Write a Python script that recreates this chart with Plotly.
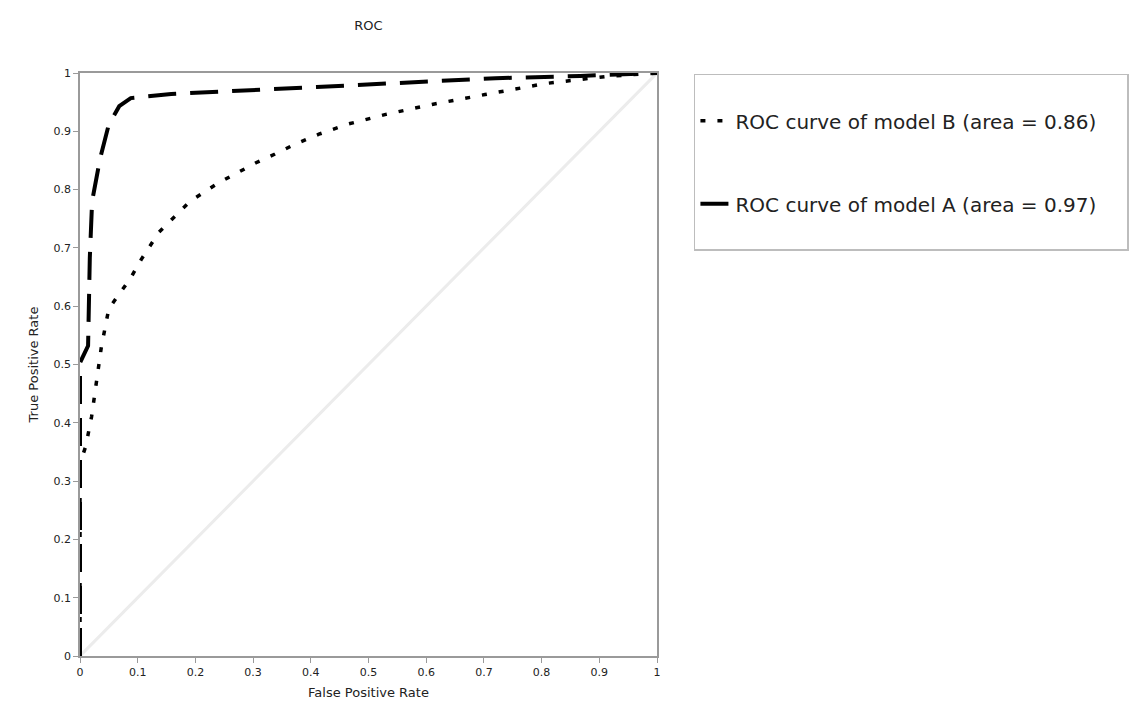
import plotly.graph_objects as go

# Data (ROC curves)
fpr_a = [0.0, 0.0, 0.014, 0.017, 0.021, 0.035, 0.05, 0.068, 0.088, 0.158, 0.41, 0.52, 0.72, 0.867, 1.0]
tpr_a = [0.0, 0.503, 0.532, 0.683, 0.78, 0.854, 0.912, 0.943, 0.957, 0.964, 0.976, 0.981, 0.991, 0.995, 1.0]

fpr_b = [0.0, 0.0, 0.01, 0.02, 0.037, 0.05, 0.087, 0.106, 0.137, 0.172, 0.191, 0.239, 0.27, 0.305,
         0.338, 0.373, 0.414, 0.463, 0.53, 0.61, 0.702, 0.807, 0.911, 1.0]
tpr_b = [0.0, 0.33, 0.36, 0.41, 0.53, 0.596, 0.647, 0.68, 0.727, 0.76, 0.78, 0.811, 0.828, 0.846,
         0.861, 0.878, 0.895, 0.912, 0.929, 0.946, 0.963, 0.982, 0.994, 1.0]

diag = [0.0, 1.0]

pad = "\u00a0" * 4
name_b = " <br>ROC curve of model B (area = 0.86)" + pad + "<br> "
name_a = " <br>ROC curve of model A (area = 0.97)" + pad + "<br> "

tick_vals = [0.0, 0.1, 0.2, 0.3, 0.4, 0.5, 0.6, 0.7, 0.8, 0.9, 1.0]
tick_text = ["0", "0.1", "0.2", "0.3", "0.4", "0.5", "0.6", "0.7", "0.8", "0.9", "1"]

fig = go.Figure()
fig.add_trace(go.Scatter(x=diag, y=diag, mode="lines", showlegend=False,
                         line=dict(color="#ececec", width=3), hoverinfo="skip"))
fig.add_trace(go.Scatter(x=fpr_b, y=tpr_b, mode="lines", name=name_b, legendgroup="b",
                         line=dict(color="black", width=3.5, dash="5px,12px")))
fig.add_trace(go.Scatter(x=fpr_a, y=tpr_a, mode="lines", name=name_a, legendgroup="a",
                         line=dict(color="black", width=4, dash="28px,14px")))

fig.update_layout(
    width=1141, height=702,
    paper_bgcolor="white", plot_bgcolor="white",
    font=dict(family="DejaVu Sans", color="#222", size=11),
    title=dict(text="ROC", x=(72 + 649) / 2 / 1141, xanchor="center", y=1 - 17 / 702, yanchor="middle",
               font=dict(size=13)),
    margin=dict(l=72, r=492, t=65, b=54),
    showlegend=True,
    legend=dict(x=1.064, y=0.9986, xanchor="left", yanchor="top",
                bordercolor="#bdbdbd", borderwidth=1.5, bgcolor="white",
                font=dict(size=20, family="DejaVu Sans"), tracegroupgap=2,
                traceorder="grouped", valign="middle"),
    xaxis=dict(range=[0, 1], tickvals=tick_vals, ticktext=tick_text, showgrid=False, zeroline=False,
               showline=True, linecolor="#9a9a9a", linewidth=1.5, mirror=True,
               ticks="outside", ticklen=5, tickcolor="#9a9a9a", automargin=False,
               title=dict(text="False Positive Rate", font=dict(size=13), standoff=10)),
    yaxis=dict(range=[0, 1], tickvals=tick_vals, ticktext=tick_text, showgrid=False, zeroline=False,
               showline=True, linecolor="#9a9a9a", linewidth=1.5, mirror=True,
               ticks="outside", ticklen=5, tickcolor="#9a9a9a", automargin=False,
               title=dict(text="True Positive Rate", font=dict(size=13), standoff=12)),
)

fig.write_html("out.html")
